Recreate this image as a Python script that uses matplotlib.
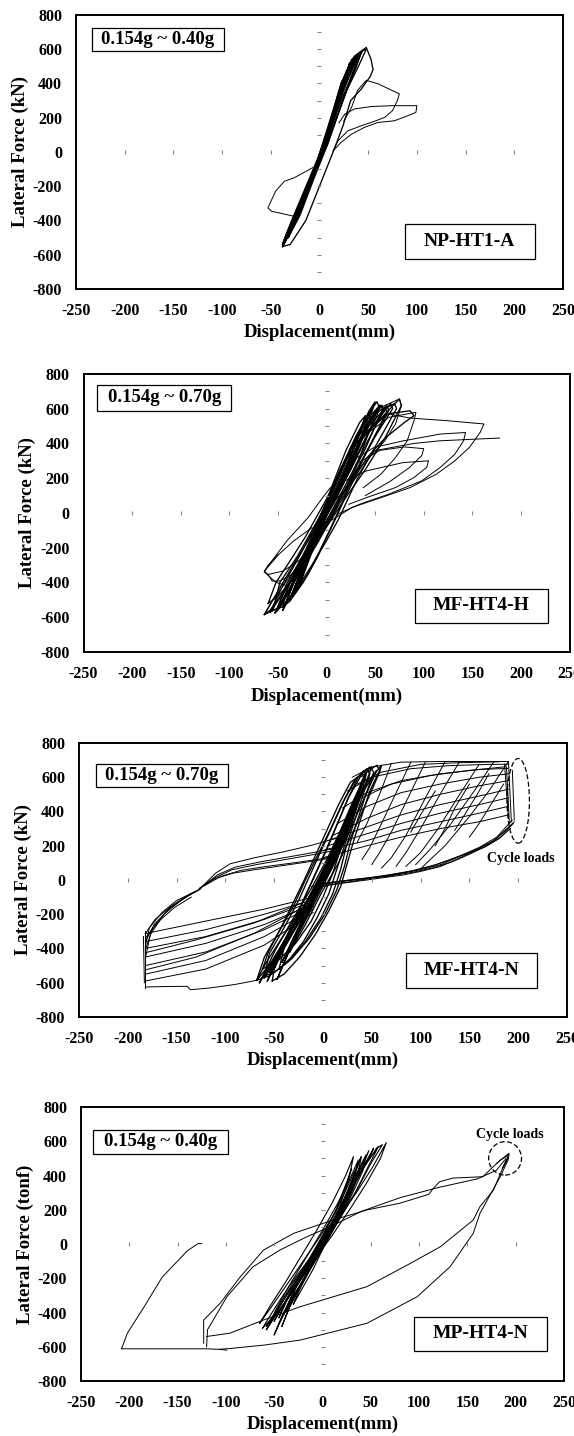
import matplotlib.pyplot as plt
from matplotlib.patches import Ellipse, Rectangle

plt.rcParams["font.family"] = ["Liberation Serif", "DejaVu Serif"]
plt.rcParams["font.weight"] = "bold"
plt.rcParams["axes.unicode_minus"] = False

x_ticks = [-250, -200, -150, -100, -50, 0, 50, 100, 150, 200, 250]
y_ticks = [-800, -600, -400, -200, 0, 200, 400, 600, 800]
x_dots = [-200, -150, -100, -50, 50, 100, 150, 200, 250]
y_dots = [-700, -600, -500, -400, -300, -200, -100, 100, 200, 300, 400, 500, 600, 700]

# ---------------- NP-HT1-A ----------------
np_core_x = [
    [-38, -28, -13, 3, 12, 22, 36, 48, 53, 55, 52, 43, 32, 24, 14, 0, -14, -30, -38],
    [-36, -26, -11, 4, 13, 23, 35, 40, 33, 22, 12, -1, -15, -31, -36],
    [-34, -24, -9, 5, 15, 25, 33, 36, 29, 19, 9, -4, -18, -30, -34],
    [-31, -20, -6, 7, 16, 27, 31, 25, 15, 4, -8, -22, -31],
    [-27, -17, -4, 8, 18, 26, 28, 21, 11, 0, -12, -23, -27],
    [-37, -25, -10, 6, 15, 26, 41, 44, 36, 23, 10, -3, -19, -33, -37],
    [-38, -30, -16, -2, 8, 18, 30, 44, 48, 40, 28, 18, 8, -6, -22, -34, -38],
    [-36, -28, -14, 0, 10, 20, 32, 42, 38, 28, 16, 6, -8, -22, -32, -36],
    [-35, -26, -12, 2, 12, 22, 30, 38, 34, 25, 14, 2, -12, -26, -35],
    [-32, -22, -8, 6, 14, 24, 34, 39, 30, 20, 8, -6, -20, -32],
]
np_core_y = [
    [-553, -400, -200, 0, 200, 400, 560, 610, 540, 480, 440, 368, 300, 150, 0, -200, -400, -540, -553],
    [-530, -390, -190, 10, 210, 410, 540, 570, 470, 330, 150, -50, -260, -470, -530],
    [-510, -380, -180, 20, 230, 430, 540, 555, 440, 290, 100, -110, -330, -470, -510],
    [-480, -340, -140, 40, 240, 450, 520, 410, 240, 40, -170, -380, -480],
    [-440, -300, -110, 60, 260, 420, 480, 370, 190, -10, -220, -390, -440],
    [-545, -380, -170, 30, 220, 430, 580, 590, 480, 310, 120, -90, -330, -500, -545],
    [-540, -420, -230, -40, 120, 300, 470, 590, 600, 500, 360, 200, 40, -140, -330, -480, -540],
    [-530, -410, -220, -20, 140, 320, 490, 570, 500, 360, 180, 20, -170, -350, -470, -530],
    [-520, -390, -200, 0, 160, 340, 470, 560, 500, 360, 170, -20, -230, -410, -520],
    [-500, -350, -150, 50, 190, 380, 520, 540, 400, 240, 40, -160, -370, -500],
]
np_side_x = [
    [25, 33, 39, 48, 60, 82, 80, 75, 67, 56, 43, 29, 19, 14],
    [20, 26, 36, 53, 74, 100, 99, 91, 77, 60, 46, 33, 22, 14],
    [-7, -26, -36, -45, -53, -49, -36, -26, -30, -36],
]
np_side_y = [
    [180, 261, 359, 418, 398, 339, 300, 241, 202, 178, 153, 123, 65, 6],
    [170, 221, 251, 265, 270, 270, 231, 212, 182, 172, 143, 104, 55, 6],
    [-92, -151, -171, -229, -327, -347, -363, -376, -440, -520],
]

# ---------------- MF-HT4-H ----------------
mfh_core_x = [
    [-64, -50, -30, -10, 8, 25, 45, 75, 77, 60, 40, 20, 0, -20, -40, -58, -64],
    [-53, -42, -25, -8, 8, 22, 40, 62, 64, 48, 30, 12, -5, -22, -38, -50, -53],
    [-48, -37, -20, -4, 10, 24, 38, 54, 52, 36, 20, 5, -10, -26, -40, -48],
    [-42, -32, -16, 0, 14, 28, 42, 50, 44, 28, 14, -2, -18, -34, -42],
    [-38, -27, -12, 3, 16, 30, 44, 47, 38, 22, 7, -8, -24, -38],
    [-32, -22, -8, 6, 18, 30, 40, 34, 20, 6, -8, -22, -32],
    [-45, -35, -20, -5, 8, 20, 34, 57, 58, 42, 26, 10, -6, -22, -36, -45],
    [-28, -18, -5, 8, 20, 31, 38, 30, 16, 2, -12, -24, -28],
    [-58, -46, -28, -12, 4, 20, 36, 66, 68, 50, 32, 14, -4, -22, -40, -54, -58],
    [-35, -25, -10, 4, 17, 30, 45, 55, 48, 32, 18, 2, -14, -30, -35],
    [-55, -48, -30, -15, -5, 5, 20, 40, 60, 70, 72, 60, 45, 32, 22, 12, 0, -15, -30, -45, -55],
    [-45, -40, -26, -14, -6, 2, 14, 30, 48, 60, 62, 52, 40, 30, 20, 12, 2, -10, -24, -38, -45],
    [-60, -52, -38, -22, -10, 0, 12, 25, 42, 55, 58, 50, 40, 28, 18, 8, -4, -18, -34, -50, -60],
    [-40, -34, -22, -10, 0, 10, 22, 34, 44, 52, 54, 46, 38, 30, 22, 14, 4, -8, -20, -32, -40],
    [-50, -42, -28, -14, -2, 10, 24, 40, 62, 86, 90, 80, 60, 42, 28, 16, 4, -10, -26, -42, -50],
]
mfh_core_y = [
    [-585, -450, -260, -80, 80, 250, 480, 656, 617, 430, 250, 90, -80, -240, -420, -560, -585],
    [-575, -440, -270, -90, 60, 220, 430, 620, 590, 420, 230, 60, -110, -280, -450, -560, -575],
    [-540, -400, -220, -60, 90, 250, 440, 610, 560, 380, 200, 40, -120, -300, -460, -540],
    [-520, -380, -190, 0, 150, 310, 500, 640, 590, 400, 220, 20, -190, -390, -520],
    [-500, -350, -160, 30, 190, 360, 560, 600, 520, 330, 140, -70, -300, -500],
    [-460, -310, -120, 60, 220, 400, 560, 520, 360, 160, -50, -280, -460],
    [-560, -420, -230, -50, 110, 260, 450, 620, 580, 410, 230, 60, -110, -300, -470, -560],
    [-420, -270, -80, 90, 250, 420, 520, 440, 260, 60, -150, -350, -420],
    [-570, -430, -250, -80, 70, 230, 420, 630, 600, 440, 260, 90, -80, -250, -420, -540, -570],
    [-480, -340, -140, 40, 200, 370, 540, 620, 560, 380, 200, 10, -200, -400, -480],
    [-560, -400, -250, -100, 0, 120, 300, 480, 600, 630, 600, 480, 330, 200, 80, -40, -160, -300, -430, -540, -560],
    [-540, -420, -270, -120, -10, 90, 250, 420, 560, 610, 580, 470, 340, 210, 100, 0, -120, -260, -400, -510, -540],
    [-520, -400, -280, -140, -20, 80, 220, 380, 540, 620, 600, 500, 370, 240, 120, 10, -110, -240, -380, -480, -520],
    [-500, -380, -240, -100, 20, 150, 300, 460, 580, 640, 610, 500, 380, 260, 140, 30, -90, -230, -360, -460, -500],
    [-540, -420, -280, -140, -10, 130, 300, 460, 570, 588, 560, 520, 430, 320, 200, 80, -40, -180, -330, -470, -540],
]
mfh_side_x = [
    [10, 30, 49, 90, 116, 154, 178],
    [38, 64, 86, 124, 162, 158, 147, 132, 113, 86, 56, 26, 4, -11],
    [26, 49, 79, 117, 143, 141, 132, 117, 98, 64, 34, 11],
    [19, 41, 79, 105, 103, 90, 71, 41, 23],
    [38, 56, 75, 77, 71, 60, 41, 23],
    [41, 64, 92, 90, 83, 71, 56, 38],
    [30, 55, 80, 100, 98, 85, 65, 40],
    [-15, -34, -49, -64, -60, -45, -34, -25],
    [-8, -26, -41, -56, -64, -56, -45, -34, -19, -8],
    [-64, -41, -19, -4, 4],
    [-60, -56, -49, -40, -30],
    [-50, -60, -64, -52, -40],
]
mfh_side_y = [
    [80, 200, 358, 400, 415, 425, 431],
    [454, 569, 546, 531, 512, 463, 377, 300, 223, 146, 88, 31, -46, -162],
    [300, 377, 415, 454, 463, 415, 338, 262, 185, 108, 50, -8],
    [185, 242, 290, 300, 262, 204, 146, 88, 50],
    [492, 608, 656, 617, 512, 415, 300, 185],
    [454, 550, 579, 531, 415, 319, 223, 146],
    [280, 360, 380, 370, 330, 260, 180, 100],
    [-85, -162, -238, -335, -354, -335, -296, -260],
    [-162, -277, -392, -508, -585, -567, -527, -469, -354, -238],
    [-335, -162, -27, 88, 146],
    [-354, -392, -392, -370, -330],
    [-240, -300, -340, -400, -420],
]

# ---------------- MF-HT4-N ----------------
mfn_core_x = [
    [-68, -58, -40, -22, -5, 10, 25, 38, 45, 50, 42, 30, 18, 5, -10, -28, -48, -68],
    [-60, -50, -33, -16, 0, 14, 28, 40, 44, 36, 24, 10, -5, -22, -40, -60],
    [-55, -45, -28, -12, 4, 18, 32, 40, 33, 20, 6, -10, -27, -44, -55],
    [-50, -40, -24, -8, 8, 22, 35, 38, 30, 16, 2, -14, -31, -46, -50],
    [-47, -35, -20, -4, 10, 24, 35, 55, 52, 40, 26, 12, -3, -20, -36, -47],
    [-42, -30, -16, 0, 13, 26, 36, 30, 16, 2, -12, -28, -42],
    [-38, -27, -12, 3, 16, 28, 40, 60, 58, 45, 30, 15, -2, -18, -32, -38],
    [-65, -52, -36, -20, -4, 12, 26, 36, 30, 18, 4, -12, -30, -48, -65],
    [-34, -24, -10, 5, 18, 30, 34, 26, 12, -2, -16, -28, -34],
    [-57, -46, -30, -14, 2, 16, 28, 42, 35, 22, 8, -8, -25, -42, -57],
    [-68, -60, -45, -30, -18, -5, 8, 20, 32, 45, 48, 40, 32, 24, 18, 10, -2, -18, -36, -55, -68],
    [-60, -55, -40, -25, -14, -2, 10, 22, 34, 48, 52, 44, 36, 28, 22, 14, 2, -14, -32, -50, -60],
    [-52, -48, -35, -22, -10, 2, 14, 26, 38, 55, 58, 48, 40, 32, 25, 18, 6, -8, -24, -40, -52],
    [-45, -40, -30, -20, -8, 4, 15, 26, 36, 42, 44, 38, 30, 22, 14, 6, -6, -20, -34, -45],
    [-62, -56, -44, -32, -20, -8, 4, 16, 28, 40, 42, 34, 26, 18, 10, 0, -12, -28, -46, -62],
]
mfn_core_y = [
    [-586, -480, -320, -170, -20, 140, 330, 520, 640, 660, 540, 360, 190, 40, -110, -280, -450, -586],
    [-570, -460, -300, -150, 10, 180, 380, 580, 620, 500, 320, 140, -20, -190, -360, -570],
    [-540, -430, -270, -120, 40, 210, 420, 560, 470, 290, 110, -60, -230, -400, -540],
    [-520, -400, -240, -80, 70, 250, 450, 540, 430, 250, 70, -100, -270, -450, -520],
    [-580, -420, -240, -60, 90, 260, 460, 640, 600, 450, 270, 100, -70, -260, -430, -580],
    [-480, -340, -190, -10, 140, 300, 500, 420, 240, 60, -120, -310, -480],
    [-450, -320, -150, 30, 180, 340, 530, 670, 630, 460, 270, 90, -80, -260, -400, -450],
    [-600, -470, -320, -170, -20, 150, 340, 520, 450, 290, 120, -50, -220, -400, -600],
    [-420, -290, -130, 40, 190, 360, 430, 340, 170, -10, -190, -350, -420],
    [-590, -460, -300, -150, 0, 180, 360, 600, 510, 330, 150, -30, -210, -400, -590],
    [-586, -450, -300, -150, 0, 150, 300, 450, 580, 650, 620, 480, 340, 200, 60, -80, -220, -360, -480, -560, -586],
    [-560, -430, -280, -120, 20, 170, 320, 470, 590, 660, 630, 500, 360, 220, 80, -60, -200, -340, -460, -540, -560],
    [-590, -450, -300, -140, 10, 160, 320, 480, 600, 670, 640, 520, 380, 240, 100, -40, -180, -320, -450, -550, -590],
    [-520, -400, -260, -120, 30, 180, 330, 480, 600, 640, 610, 480, 340, 200, 60, -80, -220, -360, -460, -520],
    [-520, -420, -290, -150, -10, 140, 290, 440, 570, 620, 590, 460, 320, 180, 40, -100, -240, -370, -470, -520],
]
# loading branches toward +190 mm
mfn_load_x = [
    [30, 50, 80, 120, 160, 190],
    [25, 50, 90, 130, 170, 190],
    [20, 45, 80, 120, 160, 190],
    [15, 45, 80, 120, 160, 190],
    [10, 45, 80, 120, 160, 190],
    [5, 45, 80, 120, 160, 190],
    [5, 45, 80, 120, 160, 190],
    [0, 45, 80, 120, 160, 190],
    [0, 45, 80, 120, 160, 190],
    [35, 60, 100, 140, 180],
    [40, 70, 110, 150, 185],
]
mfn_load_y = [
    [600, 660, 688, 692, 692, 692],
    [520, 600, 650, 668, 675, 676],
    [420, 510, 580, 620, 645, 652],
    [330, 430, 510, 560, 600, 620],
    [260, 360, 440, 500, 550, 580],
    [230, 310, 380, 440, 490, 530],
    [200, 270, 330, 390, 440, 480],
    [170, 230, 290, 340, 390, 430],
    [130, 200, 250, 300, 340, 380],
    [560, 630, 675, 685, 690],
    [480, 560, 610, 640, 660],
]
# unloading: right edge, steep diagonals and lower band
mfn_unload_x = [
    [190, 193], [186, 190], [194, 196], [188, 191],
    [190, 170, 150, 125, 110, 100], [175, 155, 130, 110, 95], [160, 140, 118, 100, 85],
    [140, 122, 100, 85, 75], [125, 105, 85, 70, 60], [105, 88, 70, 58, 50],
    [90, 75, 60, 48, 40], [70, 58, 45, 35], [150, 135, 125, 115], [185, 172, 160, 150],
    [170, 158, 145, 135], [115, 100, 90],
    [196, 176, 157, 139, 120, 100, 82, 60, 45, 25, 7, -10],
    [194, 178, 160, 140, 122, 100, 80, 60, 40, 20, 0],
    [192, 180, 165, 150, 130, 110, 90, 65, 45, 25, 5, -12],
    [195, 182, 168, 150, 132, 112, 92, 70, 50, 30, 10, -8],
    [193, 175, 155, 135, 115, 95, 75, 55, 35, 15, -5],
]
mfn_unload_y = [
    [692, 340], [676, 360], [640, 350], [660, 330],
    [692, 520, 370, 200, 120, 65], [690, 520, 320, 180, 90], [675, 500, 300, 160, 80],
    [692, 520, 300, 160, 80], [690, 480, 260, 130, 70], [690, 490, 280, 160, 90],
    [688, 510, 330, 190, 120], [680, 500, 330, 220], [560, 420, 300, 200], [560, 440, 330, 250],
    [620, 500, 380, 290], [520, 380, 280],
    [340, 233, 175, 126, 78, 50, 29, 12, 0, -15, -29, -50],
    [350, 250, 190, 140, 92, 60, 38, 20, 8, -5, -20],
    [300, 240, 190, 160, 115, 80, 52, 28, 12, -2, -18, -40],
    [330, 250, 200, 150, 105, 70, 45, 24, 10, -8, -25, -45],
    [320, 230, 170, 130, 88, 58, 35, 16, 2, -12, -30],
]
# negative side: branches to -182 mm, bottom, fan and upper-left band
mfn_neg_x = [
    [-10, -60, -120, -182], [-10, -60, -120, -182], [-10, -60, -120, -182],
    [-10, -60, -120, -182], [-10, -60, -120, -182], [-10, -60, -120, -182],
    [-10, -60, -120, -182], [-20, -70, -130, -182], [-20, -70, -130, -182],
    [-68, -90, -115, -136, -139, -160, -182],
    [-182, -182], [-184, -183],
    [-182, -172, -155, -137, -125], [-182, -173, -157, -139, -126],
    [-182, -175, -160, -142, -128], [-182, -177, -163, -145, -130],
    [-182, -170, -152, -135], [-182, -178, -165, -150, -132],
    [-125, -110, -95, -70, -40, -10, 5, 15],
    [-122, -105, -85, -63, -30, 0, 10],
    [-124, -108, -90, -65, -35, -5, 8],
    [-127, -112, -92, -70, -40, -10, 5],
    [-126, -110, -93, -68, -38, -8, 10],
]
mfn_neg_y = [
    [-100, -170, -240, -313], [-115, -200, -290, -360], [-125, -230, -330, -400],
    [-140, -260, -370, -450], [-155, -290, -420, -500], [-170, -330, -470, -550],
    [-190, -380, -520, -590], [-130, -250, -350, -425], [-160, -310, -450, -525],
    [-586, -610, -630, -641, -621, -622, -625],
    [-300, -630], [-330, -600],
    [-313, -230, -150, -85, -50], [-360, -260, -165, -95, -55],
    [-410, -290, -180, -105, -60], [-460, -320, -200, -115, -65],
    [-340, -250, -160, -100], [-390, -280, -190, -120, -70],
    [-45, 40, 95, 130, 165, 205, 230, 245],
    [-35, 20, 55, 75, 100, 125, 140],
    [-40, 30, 75, 105, 135, 165, 185],
    [-50, 5, 40, 60, 85, 110, 125],
    [-48, 15, 60, 90, 120, 150, 170],
]

# ---------------- MP-HT4-N ----------------
mpn_core_x = [
    [-62, -50, -35, -18, 0, 18, 35, 52, 66, 60, 45, 28, 10, -8, -25, -42, -62],
    [-55, -44, -28, -12, 5, 20, 33, 37, 30, 16, 0, -16, -32, -48, -55],
    [-65, -52, -36, -20, -3, 14, 28, 32, 24, 10, -6, -22, -38, -54, -65],
    [-45, -36, -22, -6, 10, 24, 36, 40, 32, 18, 2, -14, -30, -42, -45],
    [-37, -28, -14, 0, 14, 28, 42, 45, 36, 22, 6, -10, -24, -35, -37],
    [-50, -40, -25, -10, 6, 20, 34, 50, 53, 44, 30, 14, -2, -18, -34, -50],
    [-40, -30, -16, -2, 12, 26, 38, 42, 34, 20, 4, -12, -27, -40],
    [-58, -46, -32, -16, 0, 16, 30, 44, 58, 48, 34, 18, 0, -18, -36, -58],
    [-50, -40, -26, -12, 2, 14, 24, 30, 25, 14, 0, -14, -28, -42, -50],
    [-42, -34, -22, -8, 6, 18, 30, 40, 34, 22, 8, -6, -20, -34, -42],
    [-30, -24, -14, -2, 10, 22, 34, 48, 42, 30, 16, 2, -10, -22, -30],
    [-58, -48, -34, -18, -2, 14, 28, 42, 56, 62, 50, 36, 20, 4, -12, -28, -44, -58],
]
mpn_core_y = [
    [-491, -380, -250, -120, 20, 160, 300, 450, 592, 500, 350, 200, 50, -90, -230, -370, -491],
    [-470, -360, -220, -90, 50, 200, 380, 490, 400, 240, 80, -70, -220, -380, -470],
    [-463, -360, -230, -100, 40, 190, 400, 510, 400, 240, 80, -70, -220, -360, -463],
    [-430, -320, -190, -60, 80, 230, 400, 500, 410, 240, 70, -90, -240, -380, -430],
    [-385, -290, -160, -30, 110, 260, 430, 520, 420, 260, 90, -70, -210, -340, -385],
    [-450, -350, -220, -90, 60, 200, 360, 520, 560, 470, 320, 160, 10, -140, -290, -450],
    [-410, -300, -170, -40, 100, 250, 420, 480, 390, 230, 60, -100, -250, -410],
    [-480, -370, -240, -110, 40, 180, 320, 460, 570, 460, 300, 150, -10, -170, -320, -480],
    [-530, -410, -270, -130, 10, 160, 320, 440, 360, 200, 40, -110, -260, -420, -530],
    [-480, -370, -240, -100, 40, 190, 360, 510, 420, 260, 90, -60, -210, -360, -480],
    [-350, -270, -160, -40, 90, 230, 390, 545, 460, 300, 140, -10, -150, -270, -350],
    [-500, -400, -270, -140, 0, 150, 300, 440, 560, 580, 470, 320, 170, 20, -120, -250, -380, -500],
]
mpn_big_x = [
    [-123, -123, -106, -85, -61, -30, -5, 11, 46, 80, 110, 114, 121, 135, 166, 184, 193],
    [193, 192, 184, 163, 156, 132, 98, 46, -23, -60, -95, -107],
    [-120, -119, -99, -72, -44, -16, 8, 40, 80, 120, 160, 180, 190],
    [190, 177, 163, 156, 122, 91, 46, -23, -61, -96, -120],
    [180, 193, 190, 186, 192],
    [-125, -129, -140, -166, -183, -202, -208],
    [-208, -150, -121, -107, -99],
]
mpn_big_y = [
    [-580, -444, -346, -191, -35, 62, 110, 140, 199, 238, 290, 320, 363, 385, 393, 490, 520],
    [520, 490, 393, 179, 62, -133, -308, -463, -561, -590, -610, -615],
    [-600, -500, -308, -133, -35, 43, 101, 190, 270, 330, 380, 430, 500],
    [490, 315, 218, 140, -16, -113, -249, -366, -444, -521, -540],
    [470, 530, 480, 440, 500],
    [2, 2, -40, -194, -352, -521, -612],
    [-612, -612, -612, -615, -620],
]

panels = [
    # axes rect, curve groups (x, y, line width), range label, name, y label, boxes
    dict(rect=[0.1324, 0.7988, 0.8484, 0.1908],
         groups=[(np_core_x, np_core_y, 0.95), (np_side_x, np_side_y, 0.7)],
         rng="0.154g ~ 0.40g", name="NP-HT1-A", ylabel="Lateral Force (kN)",
         lbox=(0.032, 0.868, 0.271, 0.086), nbox=(0.675, 0.110, 0.267, 0.126)),
    dict(rect=[0.1455, 0.5460, 0.8467, 0.1936],
         groups=[(mfh_core_x, mfh_core_y, 0.95), (mfh_side_x, mfh_side_y, 0.7)],
         rng="0.154g ~ 0.70g", name="MF-HT4-H", ylabel="Lateral Force (kN)",
         lbox=(0.028, 0.866, 0.276, 0.095), nbox=(0.682, 0.104, 0.273, 0.123)),
    dict(rect=[0.1376, 0.2918, 0.8502, 0.1908],
         groups=[(mfn_core_x, mfn_core_y, 0.95), (mfn_load_x, mfn_load_y, 0.7),
                 (mfn_unload_x, mfn_unload_y, 0.7), (mfn_neg_x, mfn_neg_y, 0.7)],
         rng="0.154g ~ 0.70g", name="MF-HT4-N", ylabel="Lateral Force (kN)",
         lbox=(0.034, 0.840, 0.271, 0.085), nbox=(0.671, 0.107, 0.267, 0.128)),
    dict(rect=[0.1411, 0.0383, 0.8415, 0.1908],
         groups=[(mpn_core_x, mpn_core_y, 0.8), (mpn_big_x, mpn_big_y, 0.7)],
         rng="0.154g ~ 0.40g", name="MP-HT4-N", ylabel="Lateral Force (tonf)",
         lbox=(0.025, 0.830, 0.279, 0.085), nbox=(0.690, 0.109, 0.274, 0.126)),
]

fig = plt.figure(figsize=(5.74, 14.36), dpi=100)

axes = []
for p in panels:
    ax = fig.add_axes(p["rect"])
    axes.append(ax)
    for gx, gy, lw in p["groups"]:
        for xs, ys in zip(gx, gy):
            ax.plot(xs, ys, color="black", lw=lw)

    # axis tick marks drawn at the origin (faint)
    ax.plot([0] * len(y_dots), y_dots, ls="none", marker="_", ms=3, color="#888888", mew=0.8)
    ax.plot(x_dots, [0] * len(x_dots), ls="none", marker="|", ms=3, color="#888888", mew=0.8)

    ax.set_xlim(-250, 250)
    ax.set_ylim(-800, 800)
    ax.set_xticks(x_ticks)
    ax.set_yticks(y_ticks)
    ax.tick_params(length=0, labelsize=11.5, pad=10)
    for lab in ax.get_xticklabels() + ax.get_yticklabels():
        lab.set_fontweight("bold")
    for s in ax.spines.values():
        s.set_linewidth(1.4)

    ax.set_xlabel("Displacement(mm)", fontsize=13.5, fontweight="bold")
    ax.set_ylabel(p["ylabel"], fontsize=13.5, fontweight="bold")
    ax.xaxis.label.set_va("center")
    ax.yaxis.label.set_va("center")
    ax.xaxis.set_label_coords(0.5, -0.16)
    ax.yaxis.set_label_coords(-0.115, 0.5)

    for (bx, by, bw, bh), txt, fs in [(p["lbox"], p["rng"], 13.5), (p["nbox"], p["name"], 14)]:
        ax.add_patch(Rectangle((bx, by), bw, bh, transform=ax.transAxes,
                               facecolor="white", edgecolor="black", lw=0.9, zorder=5))
        ax.text(bx + bw / 2, by + bh / 2, txt, transform=ax.transAxes, ha="center",
                va="center", fontsize=fs, fontweight="bold", zorder=6)

# cycle load annotations
axes[2].add_patch(Ellipse((200, 462), 23, 495, fill=False, ls=(0, (4, 2)), lw=0.9, color="black"))
axes[2].text(203, 126, "Cycle loads", ha="center", va="center", fontsize=10, fontweight="bold")
axes[3].add_patch(Ellipse((189, 500), 34, 195, fill=False, ls=(0, (4, 2)), lw=0.9, color="black"))
axes[3].text(194, 642, "Cycle loads", ha="center", va="center", fontsize=10, fontweight="bold")

fig.savefig("out.png", dpi=100)
